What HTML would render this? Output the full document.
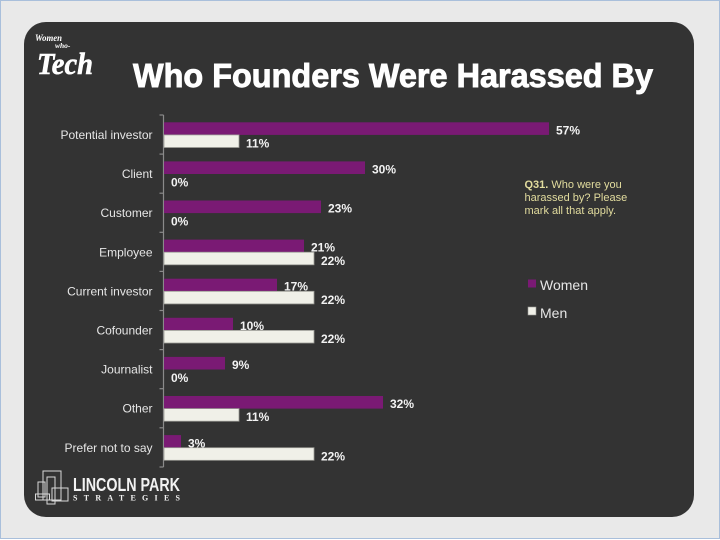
<!DOCTYPE html>
<html>
<head>
<meta charset="utf-8">
<style>
  html,body{margin:0;padding:0;background:#e9e9e9;}
  svg{display:block;}
</style>
</head>
<body>
<svg width="720" height="540" viewBox="0 0 720 540" xmlns="http://www.w3.org/2000/svg">
  <rect x="0" y="0" width="720" height="540" fill="#e9e9e9"/>
  <!-- outer thin frame -->
  <line x1="0" y1="0.5" x2="720" y2="0.5" stroke="#a9bfdb" stroke-width="1"/>
  <line x1="0.5" y1="0" x2="0.5" y2="540" stroke="#a9bfdb" stroke-width="1"/>
  <line x1="719.5" y1="0" x2="719.5" y2="540" stroke="#a9bfdb" stroke-width="1"/>
  <line x1="0" y1="538.5" x2="720" y2="538.5" stroke="#a9bfdb" stroke-width="1"/>
  <rect x="0" y="539" width="720" height="1" fill="#ffffff"/>

  <!-- dark panel -->
  <rect x="24" y="22" width="670" height="495" rx="22" ry="22" fill="#333333"/>

  <!-- Women Who Tech logo -->
  <g fill="#ffffff" font-family="'Liberation Serif', serif" font-style="italic" font-weight="bold">
    <text x="35" y="41" font-size="9.5" textLength="27" lengthAdjust="spacingAndGlyphs">Women</text>
    <text x="55" y="48" font-size="7.5">who-</text>
    <text x="37" y="74" font-size="31" textLength="56" lengthAdjust="spacingAndGlyphs" stroke="#ffffff" stroke-width="0.6">Tech</text>
  </g>

  <!-- Title -->
  <text x="133" y="87" font-family="'Liberation Sans', sans-serif" font-weight="bold" font-size="33" fill="#ffffff" stroke="#ffffff" stroke-width="0.9" textLength="520" lengthAdjust="spacingAndGlyphs">Who Founders Were Harassed By</text>

  <!-- axis -->
  <line x1="163.5" y1="115" x2="163.5" y2="467" stroke="#8a8a8a" stroke-width="1.2"/>
  <g stroke="#8a8a8a" stroke-width="1.2">
    <line x1="159.5" y1="115" x2="163.5" y2="115"/>
    <line x1="159.5" y1="154.1" x2="163.5" y2="154.1"/>
    <line x1="159.5" y1="193.2" x2="163.5" y2="193.2"/>
    <line x1="159.5" y1="232.3" x2="163.5" y2="232.3"/>
    <line x1="159.5" y1="271.4" x2="163.5" y2="271.4"/>
    <line x1="159.5" y1="310.5" x2="163.5" y2="310.5"/>
    <line x1="159.5" y1="349.6" x2="163.5" y2="349.6"/>
    <line x1="159.5" y1="388.7" x2="163.5" y2="388.7"/>
    <line x1="159.5" y1="427.8" x2="163.5" y2="427.8"/>
    <line x1="159.5" y1="467" x2="163.5" y2="467"/>
  </g>

  <!-- category labels -->
  <g font-family="'Liberation Sans', sans-serif" font-size="12" fill="#e6e6e6" text-anchor="end">
    <text x="152.5" y="139">Potential investor</text>
    <text x="152.5" y="178.1">Client</text>
    <text x="152.5" y="217.2">Customer</text>
    <text x="152.5" y="256.3">Employee</text>
    <text x="152.5" y="295.4">Current investor</text>
    <text x="152.5" y="334.5">Cofounder</text>
    <text x="152.5" y="373.6">Journalist</text>
    <text x="152.5" y="412.7">Other</text>
    <text x="152.5" y="451.8">Prefer not to say</text>
  </g>

  <!-- Women bars -->
  <g fill="#7a1a74">
    <rect x="164" y="122.3" width="385" height="12.6"/>
    <rect x="164" y="161.4" width="201" height="12.6"/>
    <rect x="164" y="200.5" width="157" height="12.6"/>
    <rect x="164" y="239.6" width="140" height="12.6"/>
    <rect x="164" y="278.7" width="113" height="12.6"/>
    <rect x="164" y="317.8" width="69" height="12.6"/>
    <rect x="164" y="356.9" width="61" height="12.6"/>
    <rect x="164" y="396.0" width="219" height="12.6"/>
    <rect x="164" y="435.1" width="17" height="12.6"/>
  </g>
  <!-- Men bars -->
  <g fill="#f0f0e8" stroke="#9a9a94" stroke-width="0.8">
    <rect x="164" y="134.9" width="75" height="12.6"/>
    <rect x="164" y="252.2" width="150" height="12.6"/>
    <rect x="164" y="291.3" width="150" height="12.6"/>
    <rect x="164" y="330.4" width="150" height="12.6"/>
    <rect x="164" y="408.6" width="75" height="12.6"/>
    <rect x="164" y="447.7" width="150" height="12.6"/>
  </g>

  <!-- value labels -->
  <g font-family="'Liberation Sans', sans-serif" font-weight="bold" font-size="12" fill="#f2f2f2">
    <text x="556" y="134.5">57%</text>
    <text x="246" y="147.5">11%</text>

    <text x="372" y="173.6">30%</text>
    <text x="171" y="186.6">0%</text>

    <text x="328" y="212.7">23%</text>
    <text x="171" y="225.7">0%</text>

    <text x="311" y="251.6">21%</text>
    <text x="321" y="264.8">22%</text>

    <text x="284" y="290.7">17%</text>
    <text x="321" y="303.9">22%</text>

    <text x="240" y="329.8">10%</text>
    <text x="321" y="343">22%</text>

    <text x="232" y="369.1">9%</text>
    <text x="171" y="382.1">0%</text>

    <text x="390" y="408.2">32%</text>
    <text x="246" y="421.2">11%</text>

    <text x="188" y="447.3">3%</text>
    <text x="321" y="460.3">22%</text>
  </g>

  <!-- question note -->
  <g font-family="'Liberation Sans', sans-serif" font-size="11" fill="#e2dc9e">
    <text x="524.5" y="188"><tspan font-weight="bold">Q31.</tspan> Who were you</text>
    <text x="524.5" y="201">harassed by? Please</text>
    <text x="524.5" y="214">mark all that apply.</text>
  </g>

  <!-- legend -->
  <rect x="528" y="279.5" width="8" height="8" fill="#7a1a74"/>
  <text x="540" y="290" font-family="'Liberation Sans', sans-serif" font-size="14" fill="#e6e6e6">Women</text>
  <rect x="528" y="307" width="8" height="8" fill="#f0f0e8" stroke="#9a9a94" stroke-width="0.6"/>
  <text x="540" y="318" font-family="'Liberation Sans', sans-serif" font-size="14" fill="#e6e6e6">Men</text>

  <!-- Lincoln Park logo -->
  <g fill="none" stroke="#d8d8d8" stroke-width="1">
    <rect x="43" y="471" width="18" height="29"/>
    <rect x="52" y="488" width="16" height="13"/>
    <rect x="35.5" y="494" width="14" height="6"/>
    <rect x="38" y="482" width="7" height="15"/>
    <rect x="47" y="477" width="8" height="27"/>
  </g>
  <text x="73" y="491" font-family="'Liberation Sans', sans-serif" font-weight="bold" font-size="18.5" fill="#f2f2f2" textLength="107" lengthAdjust="spacingAndGlyphs">LINCOLN PARK</text>
  <text x="73" y="500.5" font-family="'Liberation Serif', serif" font-weight="bold" font-size="8" fill="#f2f2f2" textLength="107" lengthAdjust="spacing">STRATEGIES</text>
</svg>
</body>
</html>
